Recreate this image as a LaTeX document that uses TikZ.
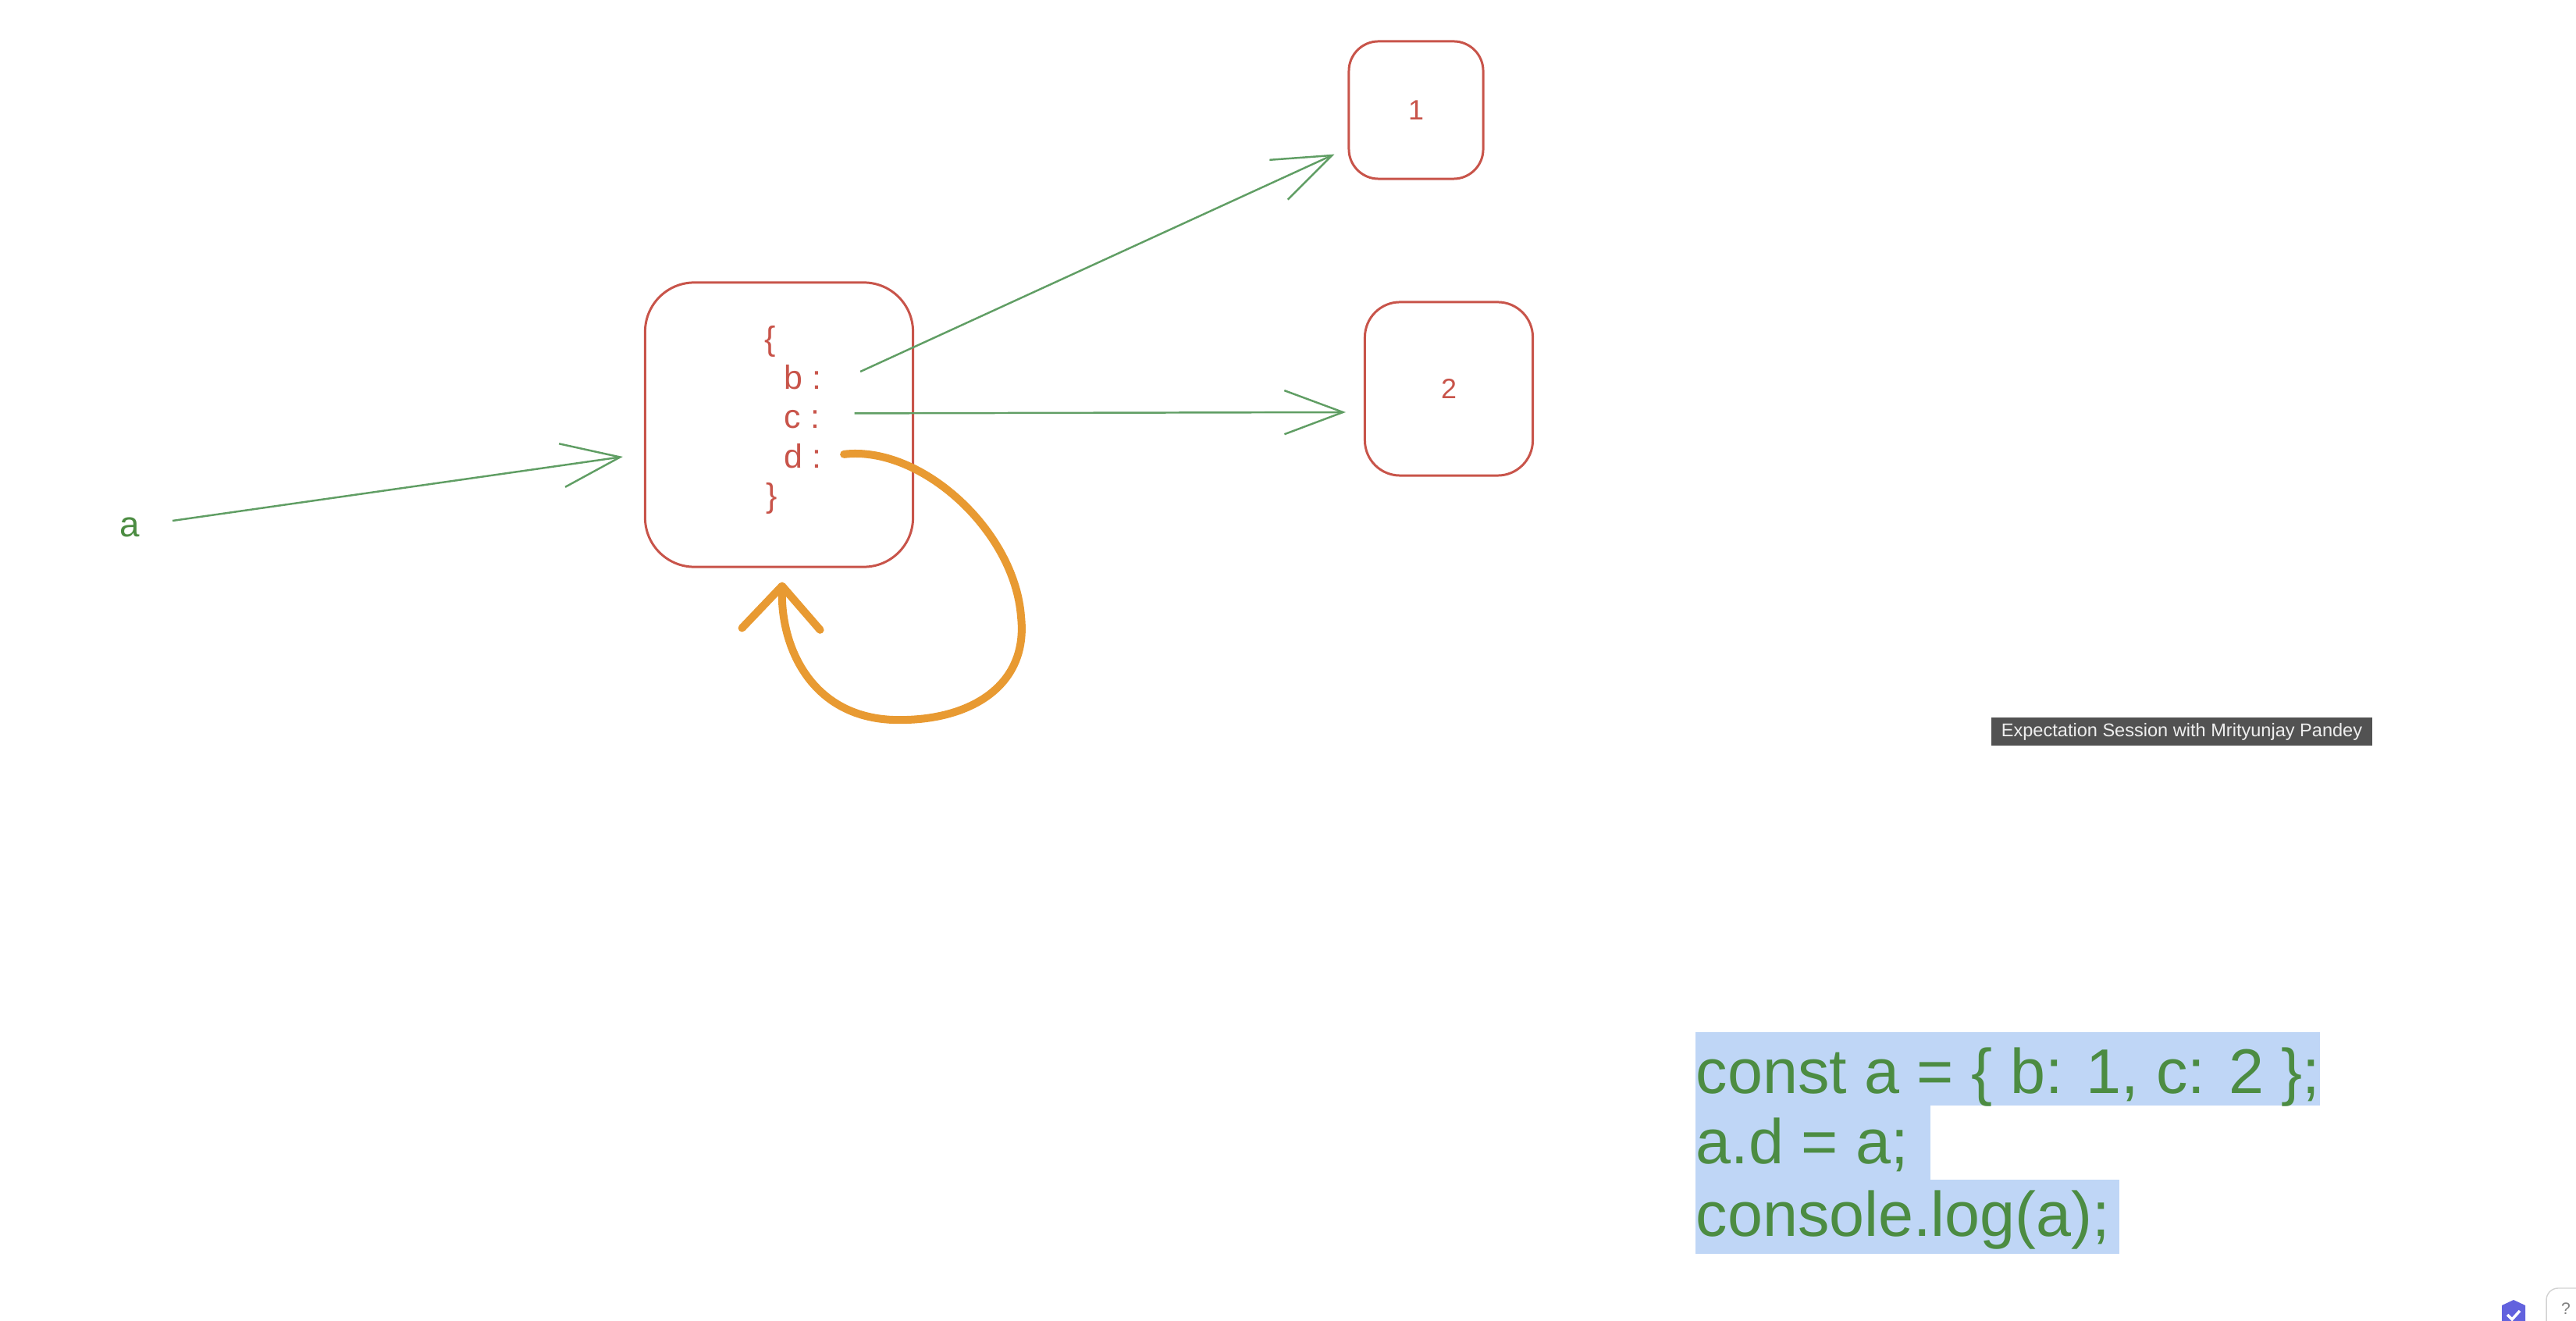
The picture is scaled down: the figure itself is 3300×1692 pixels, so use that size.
\documentclass[tikz,border=0pt]{standalone}
\usepackage{fontspec}
\setmainfont{Liberation Sans}
\usetikzlibrary{arrows.meta,positioning}
\definecolor{boxred}{RGB}{200,84,74}
\definecolor{linkgreen}{RGB}{96,158,100}
\definecolor{codegreen}{RGB}{76,140,66}
\definecolor{loopor}{RGB}{232,154,50}
\definecolor{hlblue}{RGB}{191,214,246}
\definecolor{tipgrey}{RGB}{82,82,82}
\definecolor{tiptext}{RGB}{238,238,238}
\definecolor{shieldblue}{RGB}{98,98,222}

\begin{document}
\begin{tikzpicture}[x=0.01cm, y=-0.01cm,
        obj/.style={draw=boxred, line width=0.85pt, inner sep=0, text=boxred, font=\fontsize{10.2}{12}\selectfont},
        objtxt/.style={text=boxred, font=\fontsize{12.2}{14}\selectfont, inner sep=0, text height=0.35cm, text depth=0.14cm},
        link/.style={draw=linkgreen, line width=0.7pt, -{Straight Barb[length=0.75cm, width=0.56cm]}},
        selfref/.style={draw=loopor, line width=0.1cm, line cap=round, -{Straight Barb[length=0.55cm, width=1.0cm, round]}},
        code/.style={text=codegreen, font=\fontsize{23}{28}\selectfont, inner sep=0, anchor=base west}]
    \useasboundingbox (0,0) rectangle (3300,1692);
    \clip (0,0) rectangle (3300,1692);

    % objects
    \node[obj, minimum width=3.43cm, minimum height=3.64cm, rounded corners=0.63cm] (obj) at (998,544) {};
    \node[obj, minimum width=1.72cm, minimum height=1.76cm, rounded corners=0.38cm] (one) at (1814,141) {1};
    \node[obj, minimum width=2.15cm, minimum height=2.22cm, rounded corners=0.45cm] (two) at (1856,498) {2};

    % keys inside the object
    \node[objtxt, anchor=west] (kb) at (1004,488) {b :};
    \node[objtxt, below=0cm of kb.south west, anchor=north west] (kc) {c :};
    \node[objtxt, below=0cm of kc.south west, anchor=north west] (kd) {d :};
    \node[objtxt, above=0cm of kb.north west, anchor=south west, xshift=-0.25cm] (lbrace) {\{};
    \node[objtxt, below=0cm of kd.south west, anchor=north west, xshift=-0.23cm] (rbrace) {\}};

    \node[text=codegreen, font=\fontsize{13}{15}\selectfont] (avar) at (166,675) {a};

    % references
    \draw[link] ([shift={(55,-8)}]avar.center) -- ([shift={(-27,41)}]obj.west);
    \draw[link] ([shift={(49,-12)}]kb.east) -- ([shift={(-17,-33)}]one.south west);
    \draw[link] ([shift={(44,-9)}]kc.east) -- ([shift={(-23,30)}]two.west);
    \draw[selfref] ([shift={(28,-7)}]kd.east) .. controls (1180,570) and (1300,680) .. (1308,790)
        .. controls (1318,880) and (1240,925) .. (1144,922)
        .. controls (1040,918) and (1000,830) .. ([shift={(4,18)}]obj.south);

    % code
    \fill[hlblue] (2172,1322) rectangle (2972,1416);
    \fill[hlblue] (2172,1416) rectangle (2473,1511);
    \fill[hlblue] (2172,1511) rectangle (2715,1606);
    \node[code] (line1) at (2172,1400) {const a = \{ b: 1, c: 2 \};};
    \node[code] (line2) at (2172,1490) {a.d = a;};
    \node[code] (line3) at (2172,1583) {console.log(a);};

    % tooltip and corner icons
    \node[fill=tipgrey, text=tiptext, font=\fontsize{6.7}{8}\selectfont, minimum width=4.88cm, minimum height=0.35cm, inner sep=0] (tip) at (2795,937) {Expectation Session with Mrityunjay Pandey};
    \fill[shieldblue] (3205,1672) -- (3220,1665) -- (3235,1672) -- (3235,1700) -- (3205,1700) -- cycle;
    \draw[white, line width=1pt] (3212,1684) -- (3218,1690) -- (3228,1679);
    \draw[gray!35, rounded corners=0.15cm] (3262,1650) rectangle (3380,1760);
    \node[text=gray, font=\fontsize{6}{7}\selectfont, inner sep=0] (help) at (3287,1676) {?};
\end{tikzpicture}
\end{document}
